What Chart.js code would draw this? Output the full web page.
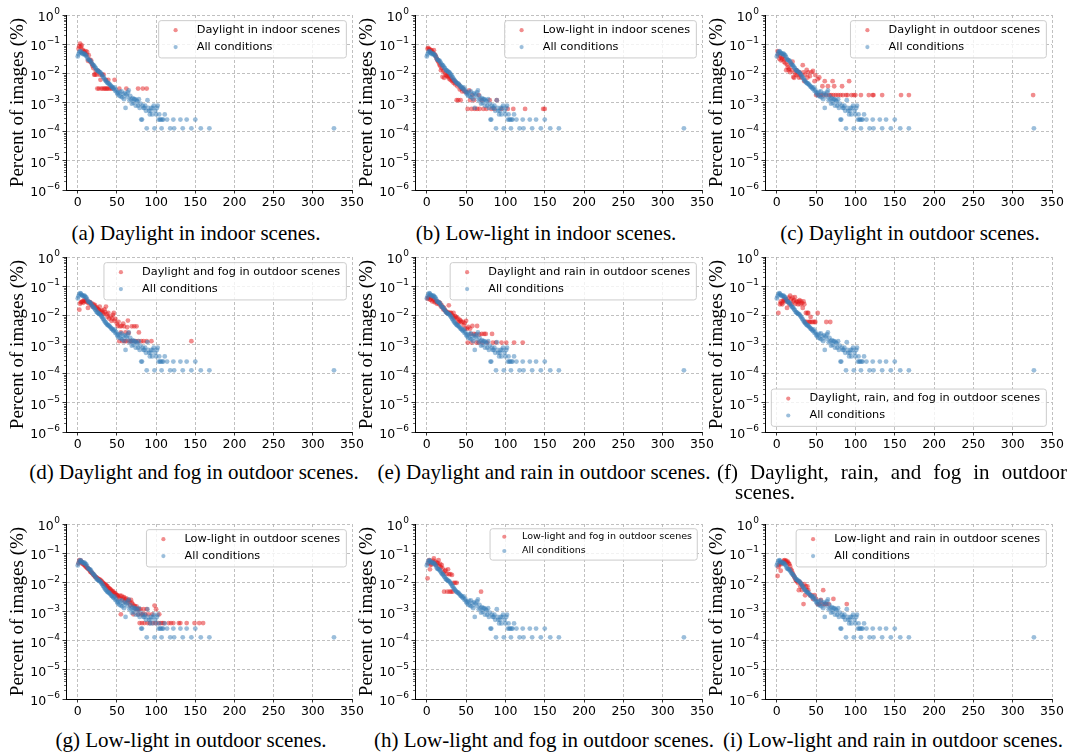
<!DOCTYPE html>
<html><head><meta charset="utf-8">
<script src="https://cdn.jsdelivr.net/npm/chart.js@4/dist/chart.umd.min.js"></script>
<style>
html,body{margin:0;padding:0;background:#fff;}
#wrap{position:relative;width:1073px;height:756px;overflow:hidden;background:#fff;}
canvas{position:absolute;}
.cap{position:absolute;width:600px;text-align:center;font-family:"Liberation Serif","Times New Roman",serif;font-size:21px;line-height:20px;color:#000;white-space:nowrap;}
.capj{position:absolute;font-family:"Liberation Serif","Times New Roman",serif;font-size:21px;line-height:20px;color:#000;text-align:justify;}
</style></head><body><div id="wrap"></div>
<script>
// ---------- DATA ----------
const allConditions = [[0,0.038],[1,0.045],[2,0.052],[3,0.058],[4,0.055],[5,0.05],[6,0.048],[7,0.045],[8,0.047],[9,0.046],[10,0.042],[11,0.04],[12,0.035],[13,0.03],[14,0.029],[15,0.028],[16,0.027],[17,0.025],[18,0.022],[19,0.02],[20,0.019],[21,0.018],[22,0.016],[23,0.015],[24,0.013],[25,0.0125],[26,0.012],[27,0.0115],[28,0.011],[29,0.0105],[30,0.0095],[31,0.0088],[32,0.0078],[33,0.0072],[34,0.0065],[35,0.0058],[36,0.0055],[37,0.005],[38,0.0047],[39,0.0045],[40,0.0044],[41,0.0041],[42,0.0038],[43,0.0035],[44,0.0034],[45,0.0031],[46,0.0029],[47,0.0033],[48,0.0025],[49,0.0027],[50,0.0022],[51,0.0019],[52,0.0021],[53,0.0017],[54,0.0023],[55,0.0016],[56,0.0024],[57,0.0015],[58,0.0019],[59,0.0013],[60,0.0021],[61,0.00065],[62,0.0019],[63,0.0016],[64,0.0022],[65,0.0026],[66,0.0012],[67,0.0017],[68,0.0013],[69,0.00091],[70,0.0014],[71,0.00098],[72,0.0013],[73,0.0013],[74,0.00078],[75,0.0012],[76,0.0011],[77,0.00078],[78,0.0013],[79,0.00065],[80,0.00091],[81,0.00026],[82,0.00026],[83,0.00078],[84,0.00065],[85,0.00065],[86,0.00078],[87,0.00052],[88,0.00013],[89,0.0012],[90,0.00065],[91,0.00052],[92,0.00039],[93,0.00052],[94,0.00065],[95,0.00039],[96,0.00065],[97,0.00078],[98,0.00013],[99,0.00052],[100,0.00039],[101,0.00065],[102,0.00078],[103,0.00026],[104,0.00039],[105,0.00026],[106,0.00026],[107,0.00013],[108,0.00026],[109,0.00026],[111,0.00039],[114,0.00026],[118,0.00013],[122,0.00026],[123,0.00013],[131,0.00026],[134,0.00013],[139,0.00026],[145,0.00013],[150,0.00026],[157,0.00013],[168,0.00013],[327,0.00013]];

const daylightIndoor = [[1,0.07],[2,0.085],[3,0.105],[4,0.08],[5,0.09],[6,0.065],[7,0.06],[8,0.055],[9,0.05],[10,0.058],[11,0.045],[12,0.054],[13,0.027],[14,0.042],[15,0.03],[16,0.025],[17,0.028],[18,0.021],[19,0.018],[20,0.015],[21,0.009],[22,0.009],[23,0.012],[24,0.009],[25,0.003],[26,0.012],[27,0.003],[28,0.009],[29,0.006],[30,0.003],[31,0.009],[32,0.003],[33,0.009],[34,0.003],[35,0.003],[36,0.006],[37,0.003],[38,0.003],[39,0.006],[40,0.003],[42,0.003],[44,0.003],[47,0.006],[53,0.003],[62,0.003],[77,0.003],[83,0.003],[88,0.003]];

const lowlightIndoor = [[1,0.07],[2,0.074],[3,0.068],[4,0.065],[5,0.06],[6,0.062],[7,0.055],[8,0.05],[9,0.062],[10,0.045],[11,0.04],[12,0.035],[13,0.03],[14,0.027],[15,0.024],[16,0.02],[17,0.018],[18,0.0128],[19,0.015],[20,0.0076],[21,0.012],[22,0.007],[23,0.0105],[24,0.009],[25,0.0085],[26,0.008],[27,0.0078],[28,0.0066],[29,0.008],[30,0.006],[31,0.0066],[32,0.0054],[33,0.0058],[34,0.0048],[35,0.0054],[36,0.0042],[37,0.0048],[38,0.0012],[39,0.0036],[40,0.0012],[41,0.004],[42,0.0028],[43,0.0012],[44,0.003],[45,0.0024],[46,0.003],[48,0.0024],[50,0.0023],[52,0.0006],[54,0.0026],[55,0.0012],[57,0.0006],[58,0.0018],[60,0.0012],[61,0.0006],[64,0.0006],[66,0.0018],[67,0.0006],[70,0.0012],[72,0.0006],[76,0.0006],[80,0.0012],[82,0.0006],[86,0.0006],[89,0.0012],[95,0.0006],[103,0.0006],[110,0.0006],[125,0.0006],[148,0.0006],[150,0.0006]];

const daylightOutdoor = [[1,0.058],[2,0.045],[3,0.032],[4,0.04],[5,0.028],[6,0.034],[7,0.03],[8,0.038],[9,0.025],[10,0.03],[11,0.022],[12,0.0128],[13,0.02],[14,0.016],[15,0.013],[16,0.0145],[17,0.011],[18,0.02],[19,0.0128],[20,0.025],[21,0.0075],[22,0.007],[23,0.0108],[24,0.009],[25,0.0128],[26,0.0087],[27,0.011],[28,0.0072],[29,0.0108],[30,0.009],[31,0.0072],[33,0.019],[34,0.0108],[35,0.0054],[36,0.009],[38,0.013],[39,0.0072],[40,0.0108],[42,0.008],[44,0.011],[46,0.012],[48,0.0054],[49,0.0087],[50,0.0018],[52,0.0063],[53,0.0018],[54,0.0072],[56,0.0018],[58,0.0036],[59,0.0018],[61,0.0054],[63,0.0018],[65,0.0036],[67,0.0018],[69,0.0018],[71,0.0054],[72,0.0018],[73,0.0036],[75,0.0018],[78,0.0018],[81,0.0018],[83,0.0036],[84,0.0018],[88,0.0018],[90,0.0018],[92,0.0054],[95,0.0018],[98,0.0018],[100,0.0018],[107,0.0018],[117,0.0018],[122,0.0018],[123,0.0018],[134,0.0018],[158,0.0018],[168,0.0018],[326,0.0018]];

const daylightFogOutdoor = [[2,0.0156],[3,0.025],[4,0.028],[5,0.029],[6,0.03],[7,0.027],[8,0.033],[9,0.031],[10,0.03],[11,0.033],[12,0.028],[13,0.018],[14,0.026],[15,0.029],[16,0.027],[17,0.023],[18,0.025],[19,0.02],[20,0.024],[21,0.021],[22,0.0225],[23,0.018],[24,0.019],[25,0.017],[26,0.016],[27,0.015],[28,0.02],[29,0.014],[30,0.013],[31,0.015],[32,0.012],[33,0.011],[34,0.016],[35,0.013],[36,0.02],[37,0.011],[38,0.009],[39,0.012],[40,0.0078],[42,0.0091],[43,0.0065],[44,0.0078],[45,0.0104],[46,0.012],[47,0.0065],[48,0.0076],[50,0.0052],[51,0.0043],[52,0.006],[53,0.0013],[54,0.0042],[55,0.0026],[56,0.0043],[57,0.0013],[58,0.0052],[59,0.0042],[60,0.0013],[61,0.0026],[62,0.0013],[63,0.0039],[64,0.0066],[65,0.0025],[66,0.0013],[68,0.0013],[69,0.0042],[71,0.0013],[72,0.0042],[74,0.0013],[75,0.0042],[77,0.0013],[78,0.0026],[81,0.0013],[84,0.0013],[88,0.0013],[94,0.0013],[145,0.0013]];

const daylightRainOutdoor = [[1,0.037],[2,0.04],[3,0.042],[4,0.035],[5,0.034],[6,0.04],[7,0.03],[8,0.036],[9,0.034],[10,0.028],[11,0.03],[12,0.031],[13,0.025],[14,0.027],[15,0.029],[16,0.024],[17,0.026],[18,0.02],[19,0.022],[20,0.019],[21,0.016],[22,0.018],[23,0.015],[24,0.014],[25,0.013],[26,0.012],[27,0.0128],[28,0.022],[29,0.0116],[30,0.012],[31,0.012],[32,0.0104],[33,0.0093],[34,0.012],[35,0.0081],[36,0.0093],[37,0.0088],[38,0.0081],[39,0.0058],[40,0.0077],[41,0.0058],[42,0.007],[43,0.0065],[44,0.0058],[46,0.006],[47,0.0046],[48,0.0055],[49,0.0035],[50,0.0065],[51,0.0035],[52,0.00116],[53,0.004],[55,0.0035],[56,0.0023],[57,0.00116],[58,0.0043],[60,0.0023],[62,0.0022],[63,0.00116],[64,0.0043],[66,0.00116],[67,0.0022],[70,0.0023],[71,0.00116],[73,0.0023],[75,0.0023],[77,0.00116],[83,0.0023],[84,0.00116],[88,0.00116],[95,0.00116],[101,0.00116],[111,0.00116],[122,0.00116]];

const daylightRainFogOutdoor = [[2,0.012],[4,0.024],[5,0.03],[6,0.026],[7,0.024],[8,0.03],[9,0.035],[10,0.033],[11,0.03],[12,0.035],[13,0.018],[14,0.03],[15,0.04],[16,0.024],[17,0.047],[18,0.035],[19,0.024],[20,0.04],[21,0.03],[22,0.033],[23,0.042],[24,0.025],[25,0.03],[26,0.029],[27,0.024],[28,0.03],[29,0.033],[30,0.024],[31,0.03],[32,0.026],[33,0.018],[34,0.03],[35,0.024],[36,0.0059],[37,0.012],[38,0.0059],[39,0.012],[40,0.012],[41,0.0059],[42,0.0059],[43,0.0088],[44,0.0059],[46,0.0059],[48,0.0059],[49,0.0059],[52,0.012],[63,0.0059],[68,0.0059]];

const lowlightOutdoor = [[1,0.045],[2,0.058],[3,0.05],[4,0.055],[5,0.045],[6,0.048],[7,0.042],[8,0.04],[9,0.038],[10,0.035],[11,0.033],[12,0.031],[13,0.03],[14,0.028],[15,0.026],[16,0.023],[17,0.022],[18,0.021],[19,0.02],[20,0.018],[21,0.017],[22,0.016],[23,0.015],[24,0.0145],[25,0.014],[26,0.013],[27,0.0125],[28,0.012],[29,0.012],[30,0.011],[31,0.0105],[32,0.0098],[33,0.009],[34,0.0088],[35,0.0085],[36,0.008],[37,0.0076],[38,0.0072],[39,0.0065],[40,0.0062],[41,0.006],[42,0.0056],[43,0.0052],[44,0.0048],[45,0.005],[46,0.0044],[47,0.0042],[48,0.0042],[49,0.0038],[50,0.0036],[51,0.0035],[52,0.0032],[53,0.0028],[54,0.0035],[55,0.0008],[56,0.0034],[57,0.0026],[58,0.003],[59,0.0031],[60,0.0022],[61,0.0026],[62,0.0028],[63,0.0024],[64,0.002],[65,0.0025],[66,0.0022],[67,0.0016],[68,0.0025],[69,0.002],[70,0.0018],[71,0.0008],[72,0.0016],[73,0.0015],[74,0.0012],[75,0.0015],[76,0.0012],[77,0.0008],[78,0.0012],[79,0.0004],[80,0.0012],[81,0.0008],[82,0.0004],[83,0.0008],[84,0.0012],[85,0.0004],[86,0.0008],[88,0.0012],[89,0.0004],[90,0.0008],[92,0.0004],[95,0.0008],[96,0.0004],[98,0.0016],[99,0.0004],[100,0.0012],[103,0.0004],[104,0.0008],[106,0.0004],[108,0.0004],[110,0.0004],[116,0.0004],[119,0.0004],[122,0.0004],[129,0.0004],[131,0.0004],[139,0.0004],[149,0.0004],[155,0.0004],[160,0.0004]];

const lowlightFogOutdoor = [[1,0.0137],[2,0.045],[3,0.058],[4,0.028],[5,0.04],[6,0.041],[7,0.05],[8,0.055],[9,0.066],[10,0.045],[11,0.051],[12,0.04],[13,0.047],[14,0.045],[15,0.058],[16,0.036],[17,0.043],[18,0.033],[19,0.039],[20,0.03],[21,0.0215],[22,0.0048],[23,0.024],[24,0.026],[25,0.019],[26,0.0048],[27,0.028],[28,0.019],[29,0.0048],[30,0.019],[31,0.0048],[32,0.018],[33,0.0048],[34,0.0096],[36,0.0096],[38,0.0096],[69,0.0048]];

const lowlightRainOutdoor = [[1,0.0165],[2,0.033],[3,0.039],[4,0.045],[5,0.025],[6,0.042],[7,0.047],[8,0.05],[9,0.055],[10,0.058],[11,0.052],[12,0.055],[13,0.048],[14,0.051],[15,0.045],[16,0.042],[17,0.035],[18,0.028],[19,0.025],[20,0.021],[21,0.018],[22,0.016],[23,0.014],[24,0.012],[25,0.011],[26,0.011],[27,0.0095],[28,0.0054],[29,0.0104],[30,0.0072],[31,0.009],[32,0.0054],[33,0.0072],[34,0.0018],[35,0.0086],[36,0.0036],[37,0.0072],[38,0.0054],[39,0.0072],[40,0.0054],[42,0.0036],[44,0.0036],[46,0.0027],[48,0.0036],[50,0.0027],[52,0.0018],[54,0.0018],[56,0.0025],[58,0.0018],[59,0.0054],[61,0.0018],[63,0.0018],[66,0.0018],[72,0.0027],[89,0.0018]];

const conditionSeries = [daylightIndoor, lowlightIndoor, daylightOutdoor, daylightFogOutdoor, daylightRainOutdoor, daylightRainFogOutdoor, lowlightOutdoor, lowlightFogOutdoor, lowlightRainOutdoor];
const conditionLabels = ['Daylight in indoor scenes','Low-light in indoor scenes','Daylight in outdoor scenes','Daylight and fog in outdoor scenes','Daylight and rain in outdoor scenes','Daylight, rain, and fog in outdoor scenes','Low-light in outdoor scenes','Low-light and fog in outdoor scenes','Low-light and rain in outdoor scenes'];
const allLabel = 'All conditions';
const captions = ['(a) Daylight in indoor scenes.','(b) Low-light in indoor scenes.','(c) Daylight in outdoor scenes.','(d) Daylight and fog in outdoor scenes.','(e) Daylight and rain in outdoor scenes.','(f) Daylight, rain, and fog in outdoor scenes.','(g) Low-light in outdoor scenes.','(h) Low-light and fog in outdoor scenes.','(i) Low-light and rain in outdoor scenes.'];
const yTickValues = [1e-6,1e-5,1e-4,1e-3,1e-2,1e-1,1];
const yTickExponents = ['\u22126','\u22125','\u22124','\u22123','\u22122','\u22121','0'];
const xTickValues = [0,50,100,150,200,250,300,350];
const yTitle = 'Percent of images (%)';

// ---------- LAYOUT ----------
const colL = [66, 415, 765], colR = [352, 702, 1052];
const rowT = [15, 257, 524], rowB = [190, 432, 699];
const capCX = [196, 546, 910, 194, 544, null, 191, 544, 893];
const capCY = [233, 472, 740];
const legendPos = ['tr','tr','tr','tr','tr','br','tr','tr','tr'];
const legendFont = [11.3,11.3,11.3,11.3,11.3,11.3,11.3,9.5,11.3];
const RED = 'rgba(228,26,28,0.5)', BLUE = 'rgba(55,126,184,0.5)';

const insideLegend = {
  id: 'insideLegend',
  afterDraw(chart, args, opts) {
    const ctx = chart.ctx, a = chart.chartArea, f = opts.fontSize;
    const items = [0, 1].map(k => chart.data.datasets[k]);
    ctx.save();
    ctx.font = f + 'px "DejaVu Sans"';
    const tw = Math.max(...items.map(d => ctx.measureText(d.label).width));
    const bw = 3.37 * f + tw + 0.55 * f, bh = 3.3 * f;
    const bx = a.right - 0.5 * f - bw;
    const by = opts.pos === 'tr' ? a.top + 0.5 * f : a.bottom - 0.5 * f - bh;
    const r = 2.5;
    ctx.beginPath();
    ctx.moveTo(bx + r, by); ctx.lineTo(bx + bw - r, by); ctx.arcTo(bx + bw, by, bx + bw, by + r, r);
    ctx.lineTo(bx + bw, by + bh - r); ctx.arcTo(bx + bw, by + bh, bx + bw - r, by + bh, r);
    ctx.lineTo(bx + r, by + bh); ctx.arcTo(bx, by + bh, bx, by + bh - r, r);
    ctx.lineTo(bx, by + r); ctx.arcTo(bx, by, bx + r, by, r); ctx.closePath();
    ctx.fillStyle = 'rgba(255,255,255,0.8)'; ctx.fill();
    ctx.strokeStyle = '#cccccc'; ctx.lineWidth = 1; ctx.stroke();
    items.forEach((d, j) => {
      const cy = by + 0.84 * f + j * 1.5 * f;
      ctx.beginPath(); ctx.arc(bx + 1.5 * f, cy, 2.1, 0, Math.PI * 2);
      ctx.fillStyle = d.pointBackgroundColor; ctx.fill();
      ctx.fillStyle = '#000'; ctx.textBaseline = 'middle'; ctx.textAlign = 'left';
      ctx.fillText(d.label, bx + 3.37 * f, cy);
    });
    ctx.restore();
  }
};

// minor log ticks and math-style tick labels (10 with raised exponent)
const logAxisDecor = {
  id: 'logAxisDecor',
  afterDraw(chart) {
    const ctx = chart.ctx, y = chart.scales.y, a = chart.chartArea;
    ctx.save(); ctx.strokeStyle = '#000'; ctx.lineWidth = 0.6;
    for (let k = -6; k < 0; k++) {
      for (let m = 2; m <= 9; m++) {
        const py = Math.round(y.getPixelForValue(m * Math.pow(10, k))) + 0.5;
        ctx.beginPath(); ctx.moveTo(a.left - 2, py); ctx.lineTo(a.left, py); ctx.stroke();
      }
    }
    ctx.fillStyle = '#000'; ctx.textAlign = 'left'; ctx.textBaseline = 'alphabetic';
    yTickValues.forEach((v, idx) => {
      const py = y.getPixelForValue(v);
      const exp = yTickExponents[idx];
      ctx.font = '9px "DejaVu Sans"';
      const ew = ctx.measureText(exp).width;
      ctx.font = '12.5px "DejaVu Sans"';
      const bw = ctx.measureText('10').width;
      const xr = a.left - 6;
      ctx.fillText('10', xr - ew - bw - 0.5, py + 6.3);
      ctx.font = '9px "DejaVu Sans"';
      ctx.fillText(exp, xr - ew, py - 0.8);
    });
    ctx.restore();
  }
};

const wrap = document.getElementById('wrap');
const PL = 62, PT = 10, PR = 16, AXH = 28;
const toXY = arr => arr.map(p => ({x: p[0], y: p[1]}));

for (let i = 0; i < 9; i++) {
  const col = i % 3, row = Math.floor(i / 3);
  const L = colL[col], R = colR[col], T = rowT[row], B = rowB[row];
  const cv = document.createElement('canvas');
  cv.width = (R - L) + PL + PR; cv.height = (B - T) + PT + AXH;
  cv.style.left = (L - PL) + 'px'; cv.style.top = (T - PT) + 'px';
  wrap.appendChild(cv);
  const gridCommon = { color: '#b0b0b0', lineWidth: 0.8, tickLength: 3.5, tickColor: '#000', tickWidth: 0.8, drawTicks: true };
  const borderCommon = { display: true, color: '#000', width: 1, dash: [3, 2] };
  new Chart(cv, {
    type: 'scatter',
    data: { datasets: [
      { label: conditionLabels[i], data: toXY(conditionSeries[i]), pointBackgroundColor: RED, pointBorderColor: RED, pointBorderWidth: 0, pointRadius: 2.4, order: 1 },
      { label: allLabel, data: toXY(allConditions), pointBackgroundColor: BLUE, pointBorderColor: BLUE, pointBorderWidth: 0, pointRadius: 2.4, order: 0 }
    ]},
    options: {
      responsive: false, animation: false, devicePixelRatio: 1,
      layout: { padding: { left: 0, top: PT, right: PR, bottom: 0 } },
      plugins: { legend: { display: false }, tooltip: { enabled: false },
        insideLegend: { fontSize: legendFont[i], pos: legendPos[i] } },
      scales: {
        x: { type: 'linear', min: -15, max: 350,
          afterBuildTicks: s => { s.ticks = xTickValues.map(v => ({ value: v })); },
          afterFit: s => { s.height = AXH; },
          ticks: { font: { family: 'DejaVu Sans', size: 12.5 }, color: '#000', padding: 2, maxRotation: 0, autoSkip: false },
          grid: gridCommon, border: borderCommon },
        y: { type: 'logarithmic', min: 1e-6, max: 1,
          afterBuildTicks: s => { s.ticks = yTickValues.map(v => ({ value: v })); },
          afterFit: s => { s.width = PL; },
          ticks: { font: { family: 'DejaVu Sans', size: 12.5 }, color: 'rgba(0,0,0,0)', padding: 2, autoSkip: false,
            callback: (v, idx) => '10^' + yTickExponents[idx] },
          title: { display: true, text: yTitle, color: '#000', font: { family: 'Liberation Serif', size: 19, lineHeight: 1 }, padding: { top: 4.8, bottom: 0 } },
          grid: gridCommon, border: borderCommon }
      }
    },
    plugins: [logAxisDecor, insideLegend]
  });
  // caption
  const d = document.createElement('div');
  if (capCX[i] === null) {
    d.className = 'capj';
    d.style.left = '717px'; d.style.width = '332px'; d.style.paddingLeft = '18px'; d.style.textIndent = '-18px';
    d.style.top = (capCY[row] - 10) + 'px';
  } else {
    d.className = 'cap';
    d.style.left = (capCX[i] - 300) + 'px'; d.style.top = (capCY[row] - 10) + 'px';
  }
  d.textContent = captions[i];
  wrap.appendChild(d);
}
</script></body></html>
